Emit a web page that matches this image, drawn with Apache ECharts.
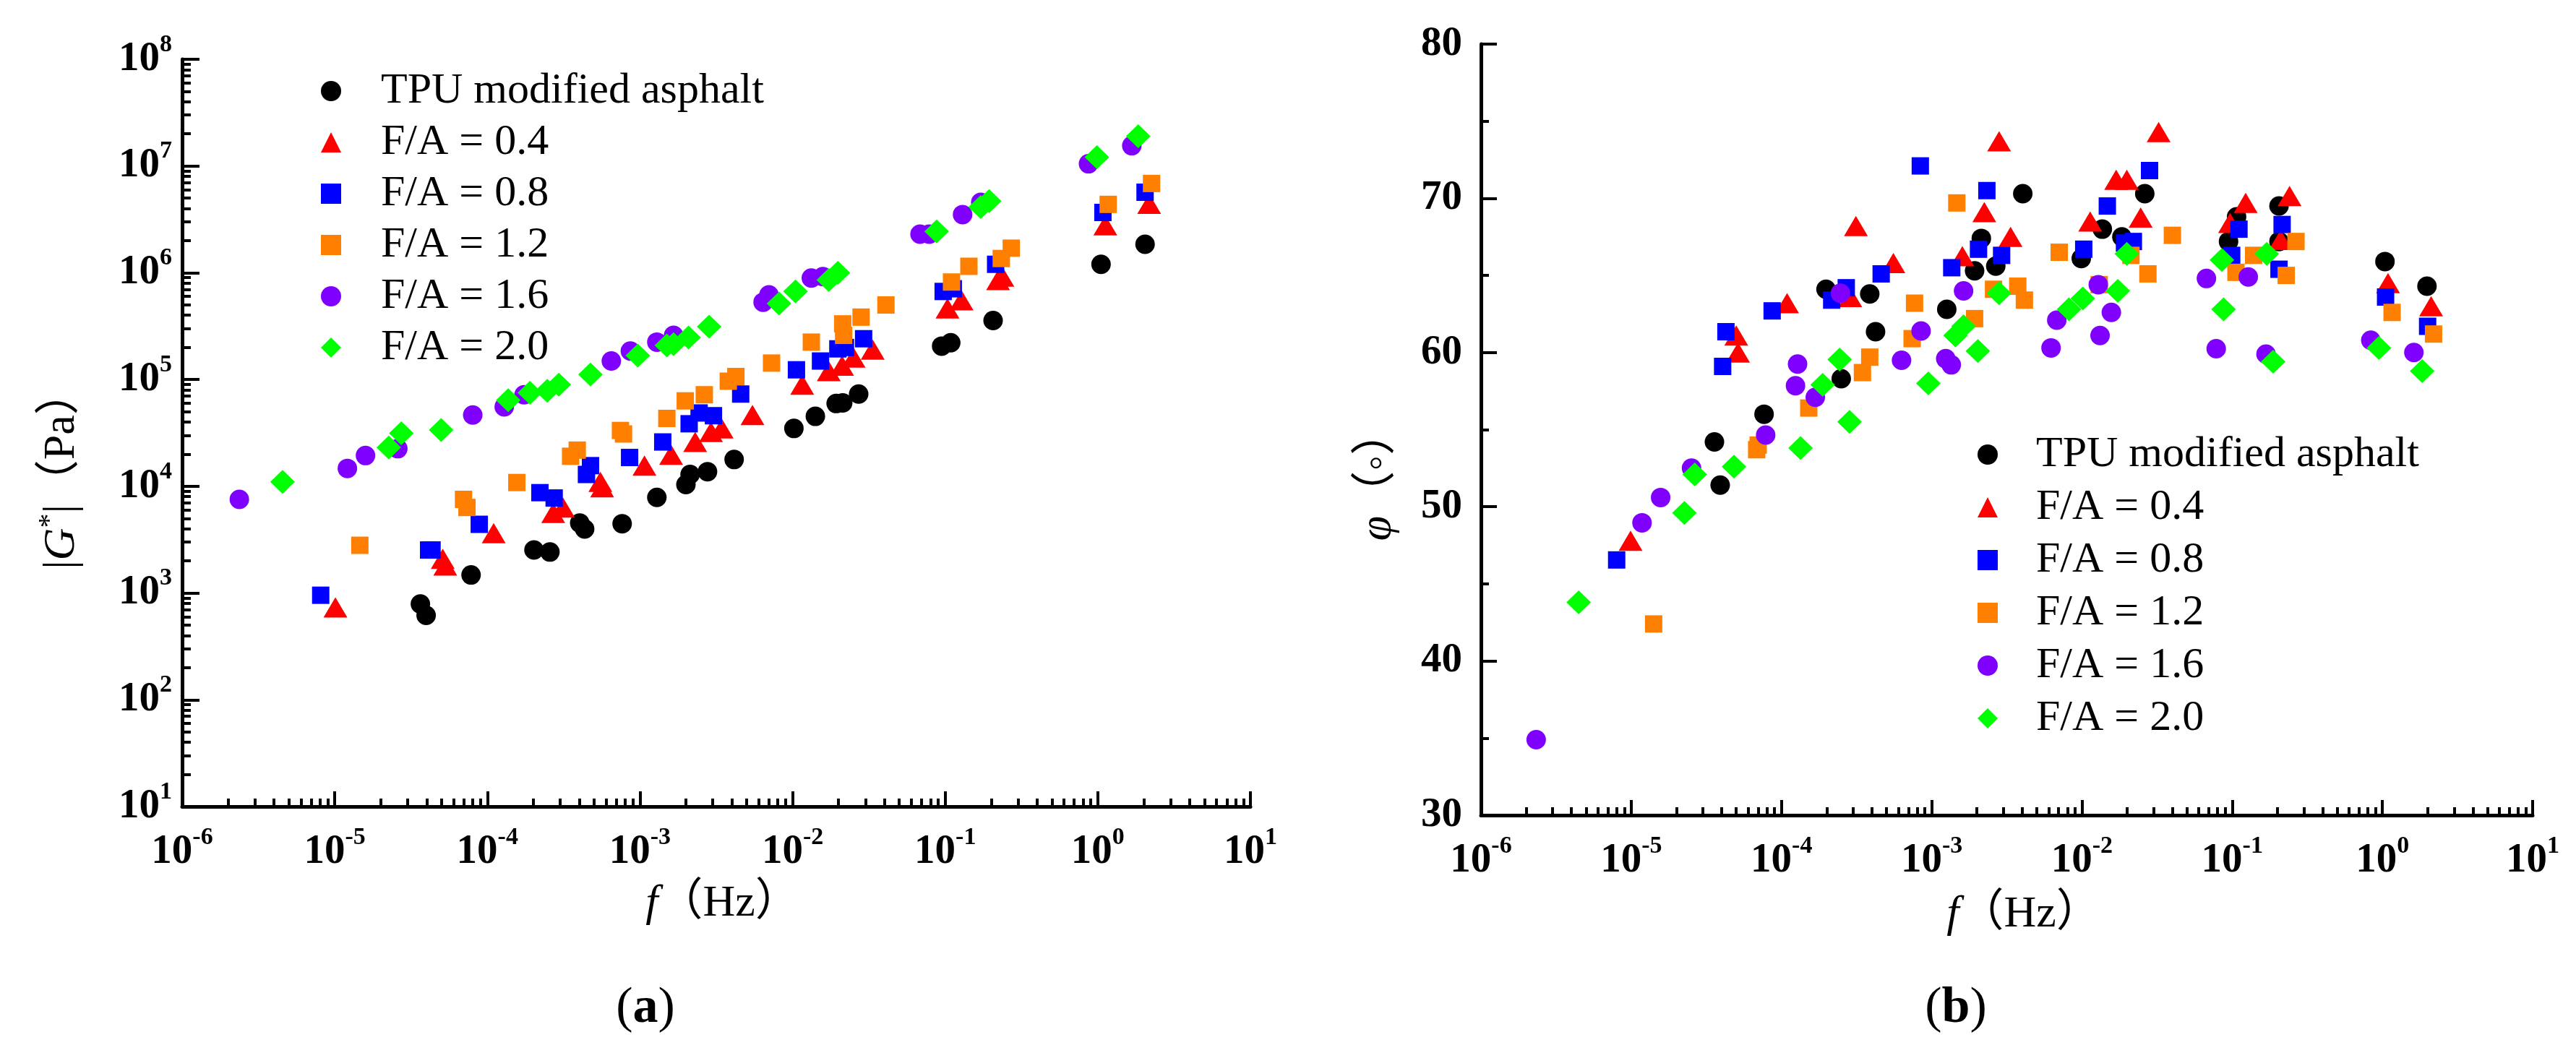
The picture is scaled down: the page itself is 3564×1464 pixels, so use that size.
<!DOCTYPE html>
<html><head><meta charset="utf-8">
<script src="https://cdn.jsdelivr.net/npm/echarts@6/dist/echarts.min.js"></script>
<style>html,body{margin:0;padding:0;background:#fff}#c{width:3564px;height:1464px}</style>
</head><body><div id="c"></div>
<script>
// ---------- names / tick labels ----------
const seriesNames = ['TPU modified asphalt', 'F/A = 0.4', 'F/A = 0.8', 'F/A = 1.2', 'F/A = 1.6', 'F/A = 2.0'];
const seriesColors = ['#000000', '#ff0000', '#0000ff', '#ff8000', '#8000ff', '#00ff00'];
const seriesSymbols = ['circle', 'triangle', 'rect', 'rect', 'circle', 'diamond'];
const xDecadeExps = [-6, -5, -4, -3, -2, -1, 0, 1];
const yDecadeExps = [1, 2, 3, 4, 5, 6, 7, 8];
const phiTicks = [30, 40, 50, 60, 70, 80];

// ---------- (a) |G*| vs f ----------
const tpuG = [[3.64e-5,789],[3.97e-5,617],[7.82e-5,1476],[2.02e-4,2529],[2.57e-4,2421],[4.03e-4,4530],[4.34e-4,3975],[7.64e-4,4460],[1.29e-3,7870],[2.0e-3,10380],[2.13e-3,12900],[2.77e-3,13700],[4.14e-3,17800],[0.0102,34800],[0.0141,45200],[0.0193,59600],[0.0213,60400],[0.0271,73100],[0.0948,205600],[0.1087,221000],[0.206,357000],[1.05,1.20e6],[2.04,1.85e6]];
const fa04G = [[1.01e-5,733],[5.1e-5,2093],[5.3e-5,1808],[1.10e-4,3640],[2.70e-4,5630],[3.13e-4,6330],[5.5e-4,10990],[5.65e-4,9790],[1.07e-3,15600],[1.6e-3,19700],[2.30e-3,26000],[2.92e-3,32300],[3.43e-3,34800],[5.46e-3,46500],[0.01156,89500],[0.01726,120000],[0.0211,134600],[0.0251,160300],[0.0335,191000],[0.1035,464000],[0.128,553000],[0.222,855000],[0.237,920000],[1.12,2.78e6],[2.17,4.43e6]];
const fa08G = [[8.09e-6,953],[4.12e-5,2529],[4.34e-5,2529],[8.85e-5,4400],[2.21e-4,8710],[2.74e-4,7760],[4.46e-4,12900],[4.74e-4,15600],[8.55e-4,18600],[1.41e-3,26000],[2.10e-3,38500],[2.44e-3,48600],[3.03e-3,45800],[4.57e-3,73100],[0.0106,123300],[0.01524,149000],[0.0198,193700],[0.0222,199500],[0.0292,241000],[0.097,668000],[0.113,708000],[0.214,1.20e6],[1.08,3.67e6],[2.04,5.68e6]];
const fa12G = [[1.46e-5,2800],[6.98e-5,7540],[7.35e-5,6330],[1.56e-4,10840],[3.51e-4,19100],[3.88e-4,21800],[7.45e-4,33300],[7.8e-4,30900],[1.5e-3,43200],[1.98e-3,63100],[2.64e-3,72000],[3.79e-3,96400],[4.25e-3,106700],[7.28e-3,142600],[0.01327,224000],[0.0213,332000],[0.0216,259000],[0.0281,384000],[0.0409,499000],[0.110,819000],[0.143,1.15e6],[0.233,1.36e6],[0.271,1.70e6],[1.17,4.37e6],[2.25,6.86e6]];
const fa16G = [[2.37e-6,7540],[1.21e-5,14700],[1.59e-5,19400],[2.59e-5,22500],[8.02e-5,46500],[1.29e-4,55400],[1.74e-4,72000],[6.49e-4,149000],[8.65e-4,185000],[1.29e-3,224000],[1.66e-3,259000],[6.41e-3,530000],[7.0e-3,621000],[0.01327,893000],[0.0158,920000],[0.0684,2.30e6],[0.0785,2.30e6],[0.130,3.51e6],[0.171,4.56e6],[0.869,1.05e7],[1.67,1.55e7]];
const fa20G = [[4.55e-6,10990],[2.26e-5,23100],[2.73e-5,31400],[4.98e-5,33700],[1.37e-4,64100],[1.90e-4,75200],[2.47e-4,78500],[2.94e-4,89500],[4.74e-4,111400],[9.68e-4,167500],[1.5e-3,208400],[1.66e-3,214400],[2.08e-3,248000],[2.84e-3,313000],[8.15e-3,514000],[0.01045,668000],[0.01726,855000],[0.0198,1.0e6],[0.0879,2.44e6],[0.171,4.12e6],[0.194,4.70e6],[0.986,1.21e7],[1.84,1.90e7]];

// ---------- (b) phase angle vs f ----------
const tpuPhi = [[3.58e-5,54.2],[3.91e-5,51.4],[7.66e-5,56.0],[1.98e-4,64.1],[2.5e-4,58.3],[3.87e-4,63.8],[4.23e-4,61.35],[1.26e-3,62.8],[1.93e-3,65.3],[2.14e-3,67.4],[2.67e-3,65.6],[4.04e-3,70.3],[9.9e-3,66.1],[0.01367,68.0],[0.01845,67.5],[0.0262,70.3],[0.0946,67.2],[0.107,68.8],[0.205,69.5],[0.205,67.2],[1.04,65.9],[1.98,64.3]];
const fa04Phi = [[9.9e-6,47.8],[5.0e-5,61.1],[5.14e-5,60.0],[1.09e-4,63.2],[2.87e-4,63.6],[3.13e-4,68.2],[5.56e-4,65.8],[1.6e-3,66.25],[2.24e-3,69.1],[2.81e-3,73.7],[3.35e-3,67.5],[0.01135,68.5],[0.0169,71.2],[0.0199,71.2],[0.0246,68.75],[0.0324,74.3],[0.0968,68.4],[0.123,69.7],[0.21,67.3],[0.241,70.15],[1.09,64.5],[2.11,63.0]];
const fa08Phi = [[8.0e-6,46.55],[4.06e-5,59.1],[4.27e-5,61.35],[8.67e-5,62.7],[2.16e-4,63.4],[2.7e-4,64.2],[4.61e-4,65.1],[8.4e-4,72.1],[1.36e-3,65.5],[2.05e-3,66.7],[2.33e-3,70.5],[2.92e-3,66.3],[0.01028,66.7],[0.01476,69.5],[0.0192,67.1],[0.022,67.2],[0.0282,71.8],[0.0993,66.3],[0.111,68.0],[0.205,65.4],[0.215,68.3],[1.05,63.6],[2.0,61.7]];
const fa12Phi = [[1.41e-5,42.4],[6.84e-5,53.7],[7.0e-5,54.0],[1.52e-4,56.4],[3.46e-4,58.7],[3.87e-4,59.7],[7.41e-4,60.9],[7.69e-4,63.2],[1.47e-3,69.7],[1.93e-3,62.2],[2.58e-3,64.1],[3.74e-3,64.3],[4.14e-3,63.4],[7.06e-3,66.5],[0.01303,64.4],[0.0212,66.3],[0.0275,65.1],[0.04,67.6],[0.106,65.2],[0.139,66.3],[0.229,65.0],[0.266,67.2],[1.16,62.6],[2.19,61.2]];
const fa16Phi = [[2.33e-6,34.9],[1.18e-5,48.96],[1.57e-5,50.6],[2.52e-5,52.5],[7.85e-5,54.65],[1.24e-4,57.85],[1.28e-4,59.25],[1.68e-4,57.1],[2.47e-4,63.85],[6.3e-4,59.5],[8.5e-4,61.4],[1.24e-3,59.6],[1.35e-3,59.2],[1.63e-3,64.0],[6.23e-3,60.3],[6.8e-3,62.1],[0.01285,64.4],[0.0132,61.1],[0.0157,62.6],[0.0674,64.8],[0.0783,60.25],[0.128,64.9],[0.168,59.9],[0.837,60.8],[1.62,60.0]];
const fa20Phi = [[4.47e-6,43.8],[2.26e-5,49.6],[2.65e-5,52.1],[4.83e-5,52.6],[1.34e-4,53.8],[1.88e-4,57.9],[2.44e-4,59.55],[2.84e-4,55.5],[9.5e-4,58.0],[1.44e-3,61.1],[1.63e-3,61.7],[2.03e-3,60.1],[2.81e-3,63.85],[8.2e-3,62.8],[0.01014,63.5],[0.01733,64.0],[0.0199,66.4],[0.0855,66.0],[0.0877,62.8],[0.17,66.4],[0.1875,59.4],[0.948,60.3],[1.84,58.8]];

const gData = [tpuG, fa04G, fa08G, fa12G, fa16G, fa20G];
const phiData = [tpuPhi, fa04Phi, fa08Phi, fa12Phi, fa16Phi, fa20Phi];

// ---------- styling ----------
const FONT = 'Liberation Serif';
const CJK = 'Liberation Serif, Noto Sans CJK SC';
const symbolSizes = {circle: 27, triangle: [33, 28], rect: 24, diamond: [34, 33]};
const AX = '#000';

// minor log ticks expressed in exponent space (for overlay tick axes)
function minorExps(lo, hi) {
  const out = [];
  for (let d = lo; d < hi; d++) for (let k = 2; k <= 9; k++) out.push(d + Math.log10(k));
  return out;
}
const supLabel = {
  b: {fontSize: 57, fontWeight: 'bold', fontFamily: FONT, color: AX},
  s: {fontSize: 34, fontWeight: 'bold', fontFamily: FONT, color: AX, padding: [0, 0, 40, 0]}
};
function powLabel(v) {
  const e = Math.round(Math.log10(v));
  return '{b|10}{s|' + e + '}';
}

const chart = echarts.init(document.getElementById('c'), null, {renderer: 'canvas'});

function logX(grid) {
  return {
    type: 'log', gridIndex: grid, logBase: 10,
    min: Math.pow(10, xDecadeExps[0]), max: Math.pow(10, xDecadeExps[xDecadeExps.length - 1]),
    axisLine: {show: true, onZero: false, lineStyle: {color: AX, width: 5}},
    axisTick: {show: true, inside: true, length: 21, lineStyle: {color: AX, width: 4}},
    axisLabel: {show: true, margin: 26, formatter: powLabel, rich: supLabel},
    splitLine: {show: false}, minorTick: {show: false}
  };
}
function minorAxis(grid, lo, hi, len, pos) {
  return {
    type: 'value', gridIndex: grid, min: lo, max: hi, interval: 1, position: pos,
    axisLine: {show: false, onZero: false},
    axisTick: {show: true, inside: true, length: len, lineStyle: {color: AX, width: 4}, customValues: minorExps(lo, hi)},
    axisLabel: {show: false}, splitLine: {show: false}
  };
}

const series = [];
seriesNames.forEach((name, i) => {
  const sym = seriesSymbols[i];
  series.push({
    name, type: 'scatter', xAxisIndex: 0, yAxisIndex: 0,
    symbol: sym, symbolSize: symbolSizes[sym],
    itemStyle: {color: seriesColors[i], opacity: 1},
    data: gData[i], animation: false, emphasis: {disabled: true}
  });
});
seriesNames.forEach((name, i) => {
  const sym = seriesSymbols[i];
  series.push({
    name, type: 'scatter', xAxisIndex: 2, yAxisIndex: 2,
    symbol: sym, symbolSize: symbolSizes[sym],
    itemStyle: {color: seriesColors[i], opacity: 1},
    data: phiData[i], animation: false, emphasis: {disabled: true}
  });
});

function legendAt(left, top, gap, pad) {
  return {
    orient: 'vertical', left, top, itemGap: gap, itemWidth: 28, itemHeight: 28,
    selectedMode: false, data: seriesNames,
    formatter: '{t|{name}}',
    textStyle: {
      fontFamily: FONT, fontSize: 60, color: AX,
      rich: {t: {fontFamily: FONT, fontSize: 60, lineHeight: 60, color: AX, padding: [0, 0, 0, pad]}}
    }
  };
}

const titleRich = {
  n: {fontFamily: CJK, fontSize: 62, color: AX},
  i: {fontFamily: FONT, fontSize: 62, fontStyle: 'italic', color: AX},
  s: {fontFamily: FONT, fontSize: 40, color: AX, padding: [0, 0, 34, 0]},
  bb: {fontFamily: FONT, fontSize: 70, fontWeight: 'bold', color: AX},
  p: {fontFamily: FONT, fontSize: 70, color: AX}
};
function gText(x, y, text, rot) {
  return {type: 'text', x, y, rotation: rot || 0, silent: true,
    style: {text, rich: titleRich, align: 'center', verticalAlign: 'middle'}};
}

chart.setOption({
  animation: false,
  backgroundColor: '#fff',
  grid: [
    {left: 252, top: 82, width: 1478, height: 1034},
    {left: 2049, top: 61, width: 1455, height: 1067}
  ],
  xAxis: [
    logX(0),
    minorAxis(0, xDecadeExps[0], xDecadeExps[xDecadeExps.length - 1], 11, 'bottom'),
    logX(1),
    minorAxis(1, xDecadeExps[0], xDecadeExps[xDecadeExps.length - 1], 11, 'bottom')
  ],
  yAxis: [
    {
      type: 'log', gridIndex: 0, logBase: 10, position: 'left',
      min: Math.pow(10, yDecadeExps[0]), max: Math.pow(10, yDecadeExps[yDecadeExps.length - 1]),
      axisLine: {show: true, onZero: false, lineStyle: {color: AX, width: 5}},
      axisTick: {show: true, inside: true, length: 24, lineStyle: {color: AX, width: 4}},
      axisLabel: {show: true, margin: 14, formatter: powLabel, rich: supLabel},
      splitLine: {show: false}
    },
    minorAxis(0, yDecadeExps[0], yDecadeExps[yDecadeExps.length - 1], 12, 'left'),
    {
      type: 'value', gridIndex: 1, position: 'left',
      min: phiTicks[0], max: phiTicks[phiTicks.length - 1], interval: 10,
      axisLine: {show: true, onZero: false, lineStyle: {color: AX, width: 5}},
      axisTick: {show: true, inside: true, length: 22, lineStyle: {color: AX, width: 4}},
      minorTick: {show: true, splitNumber: 2, length: 11, lineStyle: {color: AX, width: 4}},
      axisLabel: {show: true, margin: 26, fontFamily: FONT, fontSize: 57, fontWeight: 'bold', color: AX},
      splitLine: {show: false}
    }
  ],
  legend: [
    legendAt(439, 91, 11, 50),
    legendAt(2731, 594, 13, 48)
  ],
  graphic: [
    gText(1000, 1251, '{i|f}{n|（Hz）}'),
    gText(2800, 1266, '{i|f}{n|（Hz）}'),
    gText(86, 650, '{n||}{i|G}{s|*}{n||（Pa）}', Math.PI / 2),
    gText(1907, 658, '{i|φ}{n|（◦）}', Math.PI / 2),
    gText(893, 1396, '{p|(}{bb|a}{p|)}'),
    gText(2706, 1396, '{p|(}{bb|b}{p|)}')
  ],
  series
});
</script>
</body></html>
